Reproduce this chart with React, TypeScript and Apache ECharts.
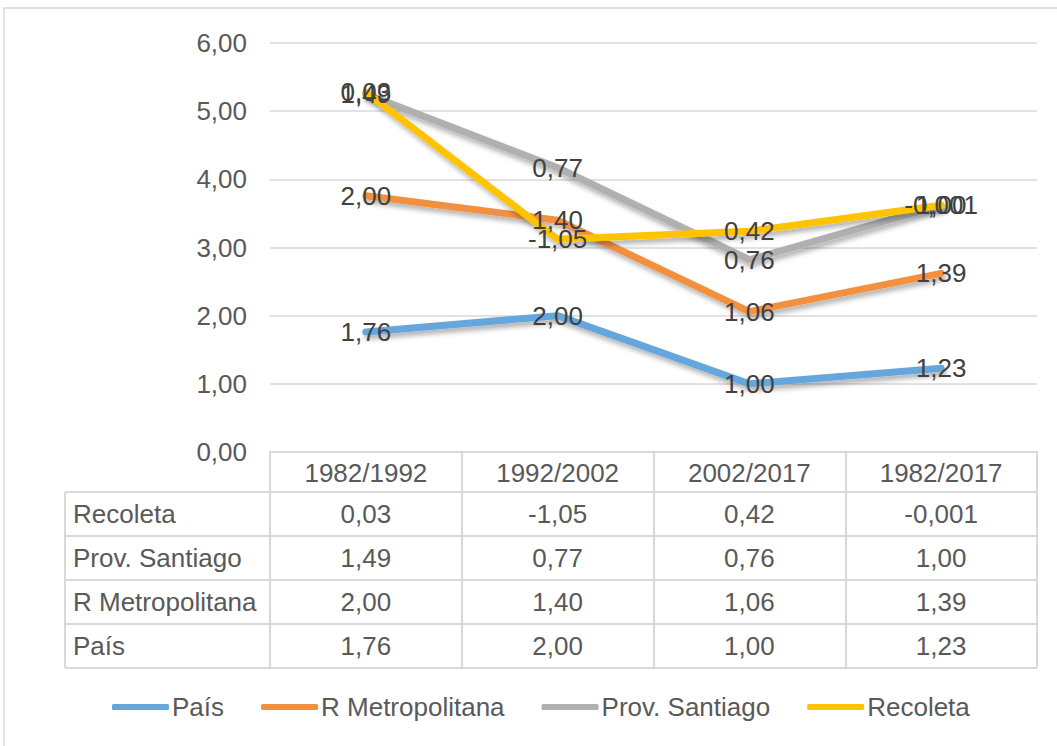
import React, { useEffect, useRef } from "react";
import * as echarts from "echarts";

const categories = ["1982/1992", "1992/2002", "2002/2017", "1982/2017"];
const seriesNames = ["País", "R Metropolitana", "Prov. Santiago", "Recoleta"];
const pais = [1.76, 2.0, 1.0, 1.23];
const rMetropolitana = [2.0, 1.4, 1.06, 1.39];
const provSantiago = [1.49, 0.77, 0.76, 1.0];
const recoleta = [0.03, -1.05, 0.42, -0.001];
const seriesValues = [pais, rMetropolitana, provSantiago, recoleta];
const colors = ["#65A6DC", "#F2903F", "#B0B0B0", "#FFC300"];
const yMin = 0;
const yMax = 6;
const yInterval = 1;

const FONT = '"Liberation Sans", Arial, sans-serif';

const fmt = (v: number) =>
  (v !== 0 && Math.abs(v) < 0.01 ? v.toFixed(3) : v.toFixed(2)).replace(".", ",");

export default function App() {
  const ref = useRef<HTMLDivElement>(null);

  useEffect(() => {
    if (!ref.current) return;
    const chart = echarts.init(ref.current, undefined, { renderer: "svg" });

    const W = 1057;
    const H = 746;
    const gridLeft = 270;
    const gridRight = 1037;
    const gridTop = 43;
    const gridBottomY = 452;
    const catW = (gridRight - gridLeft) / categories.length;
    const tableLeft = 65;
    const headerBottom = 492;
    const rowH = 44;
    const lineColor = "#d9d9d9";

    const graphic: any[] = [];
    graphic.push({
      type: "rect",
      z: -10,
      shape: { x: 4, y: 8, width: 1200, height: 900 },
      style: { fill: "none", stroke: lineColor, lineWidth: 1.5 },
    });
    // table rows (reverse order of series)
    const rowOrder = [3, 2, 1, 0];
    for (let r = 0; r <= rowOrder.length; r++) {
      const y = headerBottom + r * rowH;
      graphic.push({
        type: "line",
        shape: { x1: tableLeft, y1: y, x2: gridRight, y2: y },
        style: { stroke: lineColor, lineWidth: 2 },
      });
    }
    graphic.push({
      type: "line",
      shape: { x1: tableLeft, y1: headerBottom, x2: tableLeft, y2: headerBottom + rowOrder.length * rowH },
      style: { stroke: lineColor, lineWidth: 2 },
    });
    rowOrder.forEach((si, r) => {
      const cy = headerBottom + r * rowH + rowH / 2;
      graphic.push({
        type: "text",
        x: tableLeft + 8,
        y: cy,
        style: {
          text: seriesNames[si],
          fill: "#595959",
          fontSize: 26,
          fontFamily: FONT,
          textAlign: "left",
          textVerticalAlign: "middle",
        },
      });
      seriesValues[si].forEach((v, c) => {
        graphic.push({
          type: "text",
          x: gridLeft + catW * (c + 0.5),
          y: cy,
          style: {
            text: fmt(v),
            fill: "#595959",
            fontSize: 26,
            fontFamily: FONT,
            textAlign: "center",
            textVerticalAlign: "middle",
          },
        });
      });
    });

    chart.setOption({
      animation: false,
      backgroundColor: "#ffffff",
      grid: {
        left: gridLeft,
        right: W - gridRight,
        top: gridTop,
        bottom: H - gridBottomY,
        containLabel: false,
      },
      xAxis: {
        type: "category",
        data: categories,
        boundaryGap: true,
        axisLine: { show: true, lineStyle: { color: lineColor, width: 2 } },
        axisTick: {
          show: true,
          length: headerBottom - gridBottomY + rowOrder.length * rowH,
          lineStyle: { color: lineColor, width: 2 },
        },
        axisLabel: {
          color: "#595959",
          fontSize: 26,
          fontFamily: FONT,
          margin: 8,
          interval: 0,
        },
      },
      yAxis: {
        type: "value",
        min: yMin,
        max: yMax,
        interval: yInterval,
        axisLine: { show: false },
        axisTick: { show: false },
        axisLabel: {
          color: "#595959",
          fontSize: 26,
          fontFamily: FONT,
          margin: 23,
          formatter: (v: number) => fmt(v),
        },
        splitLine: { lineStyle: { color: lineColor, width: 1.5 } },
      },
      legend: {
        left: 112,
        top: 694,
        padding: 0,
        itemWidth: 57,
        itemHeight: 6,
        itemGap: 37,
        icon: "roundRect",
        textStyle: { color: "#595959", fontSize: 26, fontFamily: FONT, padding: [0, 0, 0, -2] },
        data: seriesNames,
      },
      graphic,
      series: seriesNames.map((name, i) => ({
        name,
        type: "line",
        stack: "total",
        stackStrategy: "all",
        data: seriesValues[i],
        symbol: "circle",
        symbolSize: 2,
        showSymbol: true,
        itemStyle: { color: colors[i] },
        lineStyle: {
          color: colors[i],
          width: 7,
          cap: "round",
          join: "round",
          shadowColor: "rgba(0,0,0,0.3)",
          shadowBlur: 5,
          shadowOffsetX: 2,
          shadowOffsetY: 4,
        },
        label: {
          show: true,
          position: "inside",
          formatter: (p: any) => fmt(p.value),
          color: "#404040",
          fontSize: 26,
          fontFamily: FONT,
          textBorderWidth: 0,
        },
        emphasis: { disabled: true },
      })),
    });

    return () => chart.dispose();
  }, []);

  return (
    <div
      ref={ref}
      style={{ position: "fixed", left: 0, top: 0, width: 1057, height: 746 }}
    />
  );
}
